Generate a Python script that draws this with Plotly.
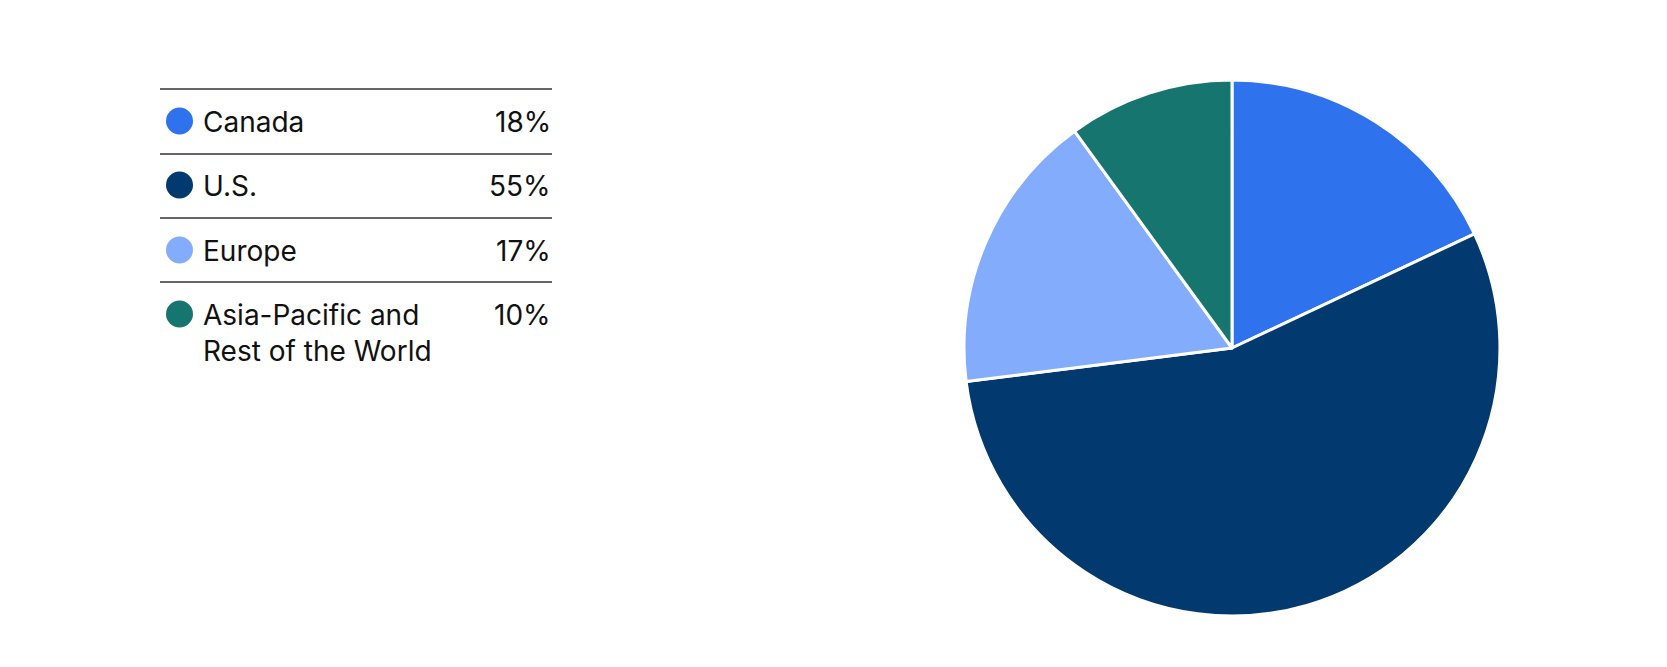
import plotly.graph_objects as go

regions = ["Canada", "U.S.", "Europe", "Asia-Pacific and<br>Rest of the World"]
shares = [18, 55, 17, 10]
colors = ["#2f72ee", "#023a6f", "#84acfd", "#177570"]

W, H = 1667, 667

fig = go.Figure()
fig.add_trace(go.Pie(
    labels=regions, values=shares, sort=False, direction="clockwise", rotation=0,
    marker=dict(colors=colors, line=dict(color="white", width=3)),
    textinfo="none", hoverinfo="label+percent", showlegend=False,
    domain=dict(x=[0.5735, 0.895], y=[0.0885, 0.892]),
))

# custom legend table
px = lambda x: x / W
py = lambda y: 1 - y / H
line_y = [81, 146, 210, 274]
text_y = [113, 177, 242, 306]
shapes = []
annotations = []
for i, name in enumerate(regions):
    shapes.append(dict(type="line", xref="paper", yref="paper",
                       x0=px(152), x1=px(544), y0=py(line_y[i]), y1=py(line_y[i]),
                       line=dict(color="#333333", width=1.3)))
    shapes.append(dict(type="circle", xref="paper", yref="paper",
                       x0=px(158), x1=px(185), y0=py(text_y[i] - 13.5), y1=py(text_y[i] + 13.5),
                       fillcolor=colors[i], line=dict(width=0)))
    annotations.append(dict(xref="paper", yref="paper", x=px(193), y=py(text_y[i] - 18),
                            text=name, showarrow=False, xanchor="left", yanchor="top",
                            align="left", font=dict(size=28, color="#111111")))
    annotations.append(dict(xref="paper", yref="paper", x=px(545), y=py(text_y[i] - 18),
                            text=f"{shares[i]}%", showarrow=False, xanchor="right", yanchor="top",
                            font=dict(size=28, color="#111111")))

fig.update_layout(
    width=W, height=H, margin=dict(l=0, r=0, t=0, b=0),
    paper_bgcolor="white", plot_bgcolor="white",
    font=dict(family="Inter, Roboto, sans-serif"),
    shapes=shapes, annotations=annotations,
)
fig.write_html("out.html")
